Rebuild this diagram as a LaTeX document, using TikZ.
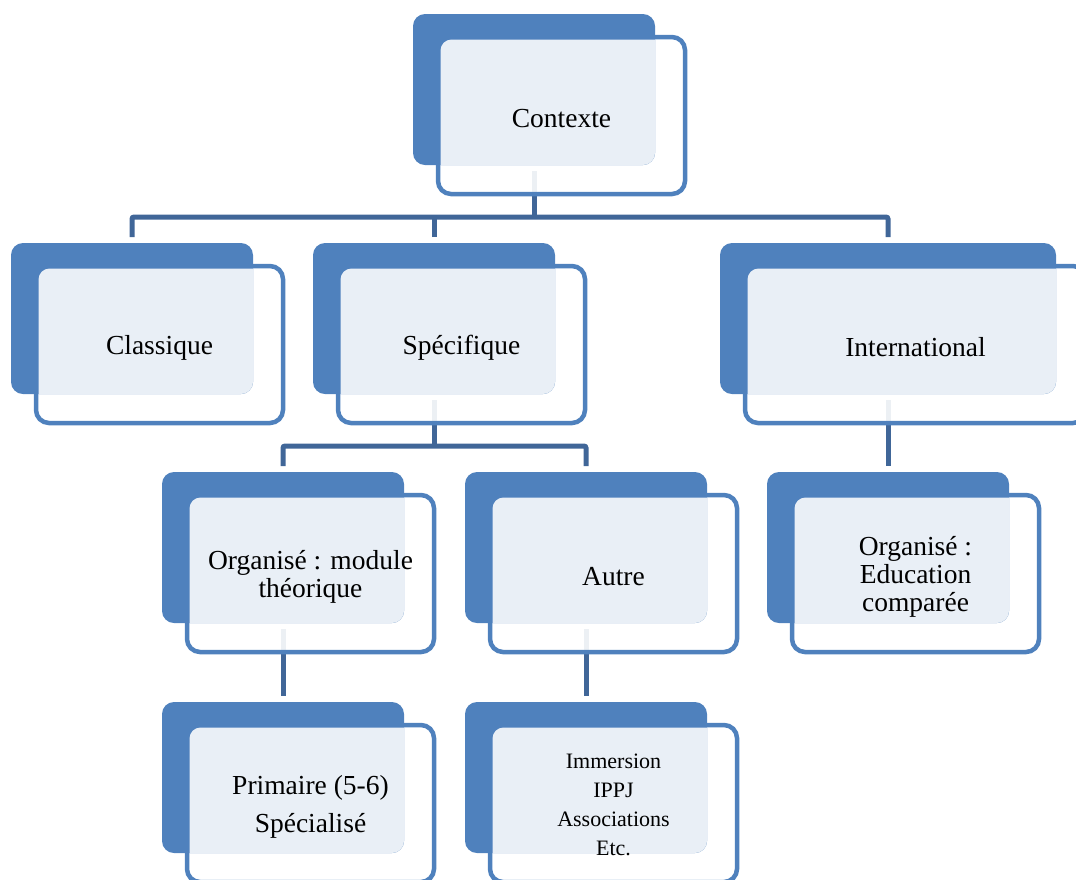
\documentclass[tikz,border=0pt]{standalone}
\usepackage{fontspec}
\setmainfont{Liberation Serif}
\usetikzlibrary{calc}
\definecolor{boxblue}{RGB}{79,129,189}
\definecolor{connblue}{RGB}{64,102,152}
\definecolor{lightfill}{RGB}{233,239,246}
\pgfdeclarelayer{background}
\pgfsetlayers{background,main}
\tikzset{
  frontbox/.style={draw=boxblue, line width=4.5pt, fill=white, fill opacity=0.9, rounded corners=13pt},
  backbox/.style={fill=boxblue, rounded corners=12pt},
  lightbox/.style={fill=lightfill, rounded corners=12pt},
  conn/.style={draw=connblue, line width=5pt, rounded corners=2pt},
  txt/.style={text=black, align=center, yshift=-3pt, font=\fontsize{27.5}{28}\selectfont},
  smalltxt/.style={text=black, align=center, yshift=-1pt, font=\fontsize{22}{29}\selectfont},
}
% #1 name, #2 x, #3 y, #4 width, #5 text style, #6 text
\newcommand\diagbox[6]{%
  \coordinate (#1-bnw) at (#2,#3);
  \coordinate (#1-bse) at (#2+#4,#3+151);
  \coordinate (#1-fnw) at (#2+25,#3+23);
  \coordinate (#1-fse) at (#2+#4+30,#3+180);
  \coordinate (#1-top) at (#2+#4/2,#3-6);
  \coordinate (#1-bot) at (#2+#4/2,#3+157);
  \path[frontbox] (#1-fnw) rectangle (#1-fse);
  \path[backbox] (#1-bnw) rectangle (#1-bse);
  \begin{scope}
    \clip[rounded corners=11pt] (#2+27.5,#3+25.5) rectangle (#2+#4+27.5,#3+177.5);
    \path[lightbox] (#1-bnw) rectangle (#1-bse);
  \end{scope}
  \node[#5] (#1) at ($(#1-fnw)!0.5!(#1-fse)$) {#6};
}
\begin{document}
\begin{tikzpicture}[x=1pt,y=-1pt]
\useasboundingbox (0,0) rectangle (1076,879);
\clip (0,0) rectangle (1076,879);
\diagbox{ctx}{413}{14}{242}{txt}{Contexte}
\diagbox{cla}{11}{243}{242}{txt}{Classique}
\diagbox{spe}{313}{243}{242}{txt}{Spécifique}
\diagbox{intl}{720}{243}{336}{txt}{International}
\diagbox{org}{162}{472}{242}{txt}{Organisé : module\\théorique}
\diagbox{aut}{465}{472}{242}{txt}{Autre}
\diagbox{edu}{767}{472}{242}{txt}{Organisé :\\Education\\comparée}
\diagbox{prim}{162}{702}{242}{txt}{Primaire (5-6)\\[10pt]Spécialisé}
\diagbox{imm}{465}{702}{242}{smalltxt}{Immersion\\IPPJ\\Associations\\Etc.}
\coordinate (h1) at (0,217);
\coordinate (h2) at (0,446);
\begin{pgfonlayer}{background}
  \draw[conn] (ctx-bot) -- (ctx-bot |- h1);
  \draw[conn] (cla-top) |- (intl-top |- h1) -- (intl-top);
  \draw[conn] (spe-top) -- (spe-top |- h1);
  \draw[conn] (spe-bot) -- (spe-bot |- h2);
  \draw[conn] (org-top) |- (aut-top |- h2) -- (aut-top);
  \draw[conn] (intl-bot) -- (edu-top);
  \draw[conn] (org-bot) -- (prim-top);
  \draw[conn] (aut-bot) -- (imm-top);
\end{pgfonlayer}
\end{tikzpicture}
\end{document}
